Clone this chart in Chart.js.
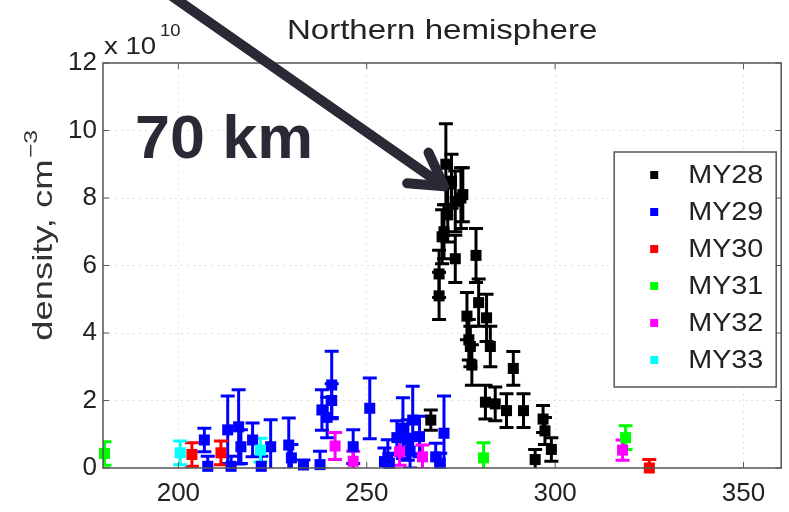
<!DOCTYPE html>
<html>
<head>
<meta charset="utf-8">
<script src="https://cdn.jsdelivr.net/npm/chart.js@4"></script>
<style>
  html, body { margin: 0; padding: 0; background: #fff; }
  #wrap { width: 789px; height: 512px; }
</style>
</head>
<body>
<div id="wrap"><canvas id="densityChart" width="789" height="512"></canvas></div>
<script>
// tick labels
const xTicks = [200, 250, 300, 350];
const yTicks = [0, 2, 4, 6, 8, 10, 12];

const seriesNames = ["MY28", "MY29", "MY30", "MY31", "MY32", "MY33"];
const seriesColors = ["#000000", "#0000ff", "#ff0000", "#00ff00", "#ff00ff", "#00ffff"];

// solar longitude Ls (deg), density (x 10^10 cm^-3), error half width
const my28Ls = [271.0, 272.5, 273.5, 275.0, 275.5, 271.5, 270.5, 270.0, 273.5, 279.0, 269.2, 269.2, 279.7, 276.6,
                281.8, 277.1, 277.5, 282.8, 277.9, 288.9, 281.5, 284.1, 287.1, 291.6, 296.8, 297.3, 299.0, 294.7, 267.0];
const my28Density = [9.0, 8.5, 7.9, 8.0, 8.1, 7.5, 7.0, 6.85, 6.2, 6.3, 5.75, 5.1, 4.9, 4.5,
                     4.45, 3.8, 3.6, 3.6, 3.05, 2.95, 1.95, 1.9, 1.7, 1.7, 1.45, 1.1, 0.55, 0.25, 1.42];
const my28Err = [1.2, 0.8, 0.9, 0.9, 0.8, 0.8, 0.8, 0.8, 0.7, 0.8, 0.7, 0.7, 0.7, 0.7,
                 0.7, 0.6, 0.6, 0.6, 0.6, 0.5, 0.5, 0.5, 0.5, 0.5, 0.4, 0.4, 0.35, 0.3, 0.3];

const my29Ls = [206.9, 207.8, 213.1, 214.0, 216.0, 216.6, 219.7, 222.0, 224.5, 229.3, 230.0, 233.2, 237.6, 238.1,
                239.5, 240.7, 240.7, 246.4, 250.8, 254.7, 255.6, 256.0, 259.6, 260.9, 262.2, 264.0, 268.3, 270.5,
                269.5, 258.0, 261.5];
const my29Density = [0.83, 0.05, 1.13, 0.05, 1.22, 0.63, 0.83, 0.05, 0.63, 0.68, 0.3, 0.09, 0.1, 1.72,
                     1.5, 2.46, 2.0, 0.63, 1.77, 0.19, 0.24, 0.14, 1.18, 0.83, 1.42, 0.93, 0.33, 1.03,
                     0.14, 0.9, 0.5];
const my29Err = [0.35, 0.3, 1.0, 0.3, 1.1, 0.5, 0.5, 0.3, 0.8, 0.8, 0.4, 0.15, 0.4, 0.6,
                 0.6, 1.0, 0.5, 0.5, 0.9, 0.4, 0.6, 0.3, 0.9, 0.6, 1.0, 0.6, 0.4, 1.1,
                 0.3, 0.5, 0.5];

const my30Ls = [203.6, 211.3, 325.0];
const my30Density = [0.4, 0.45, 0.0];
const my30Err = [0.35, 0.35, 0.25];

const my31Ls = [180.4, 281.0, 318.7];
const my31Density = [0.43, 0.3, 0.9];
const my31Err = [0.35, 0.45, 0.35];

const my32Ls = [241.6, 246.4, 258.7, 264.8, 317.9];
const my32Density = [0.65, 0.2, 0.48, 0.33, 0.53];
const my32Err = [0.4, 0.3, 0.4, 0.35, 0.3];

const my33Ls = [200.5, 221.8];
const my33Density = [0.45, 0.53];
const my33Err = [0.35, 0.35];

const allLs = [my28Ls, my29Ls, my30Ls, my31Ls, my32Ls, my33Ls];
const allDensity = [my28Density, my29Density, my30Density, my31Density, my32Density, my33Density];
const allErr = [my28Err, my29Err, my30Err, my31Err, my32Err, my33Err];

const FONT = '"Liberation Sans", Arial, Helvetica, sans-serif';
const TXT = "#222222";

const datasets = seriesNames.map((name, i) => ({
    label: name,
    data: allLs[i].map((x, j) => ({ x: x, y: allDensity[i][j], err: allErr[i][j] })),
    backgroundColor: seriesColors[i],
    borderColor: seriesColors[i],
    pointStyle: "rect",
    pointRadius: 7.8,
    pointBorderWidth: 0,
    showLine: false,
    clip: false,
    order: seriesNames.length - i
}));

// text stretched a bit wider, like the original figure
function wideText(ctx, text, x, y, sx) {
    ctx.save();
    ctx.translate(x, y);
    ctx.scale(sx, 1);
    ctx.fillText(text, 0, 0);
    ctx.restore();
}

const errorBars = {
    id: "errorBars",
    beforeDatasetsDraw(chart) {
        const ctx = chart.ctx, xs = chart.scales.x, ys = chart.scales.y, a = chart.chartArea;
        ctx.save();
        ctx.beginPath();
        ctx.rect(a.left, a.top, a.right - a.left, a.bottom - a.top);
        ctx.clip();
        ctx.lineWidth = 3;
        chart.data.datasets.forEach(ds => {
            ctx.strokeStyle = ds.borderColor;
            ds.data.forEach(p => {
                const px = xs.getPixelForValue(p.x);
                const top = ys.getPixelForValue(p.y + p.err);
                const bot = ys.getPixelForValue(p.y - p.err);
                ctx.beginPath();
                ctx.moveTo(px, top); ctx.lineTo(px, bot);
                ctx.moveTo(px - 7, top); ctx.lineTo(px + 7, top);
                ctx.moveTo(px - 7, bot); ctx.lineTo(px + 7, bot);
                ctx.stroke();
            });
        });
        ctx.restore();
    }
};

const decorations = {
    id: "decorations",
    afterDraw(chart) {
        const ctx = chart.ctx, xs = chart.scales.x, ys = chart.scales.y, a = chart.chartArea;
        ctx.save();

        // axes box and inward ticks
        ctx.strokeStyle = "#555";
        ctx.lineWidth = 1.5;
        ctx.strokeRect(a.left, a.top, a.right - a.left, a.bottom - a.top);
        ctx.lineWidth = 1;
        ctx.beginPath();
        xTicks.forEach(v => {
            const px = xs.getPixelForValue(v);
            ctx.moveTo(px, a.bottom); ctx.lineTo(px, a.bottom - 6);
            ctx.moveTo(px, a.top); ctx.lineTo(px, a.top + 6);
        });
        yTicks.forEach(v => {
            const py = ys.getPixelForValue(v);
            ctx.moveTo(a.left, py); ctx.lineTo(a.left + 6, py);
            ctx.moveTo(a.right, py); ctx.lineTo(a.right - 6, py);
        });
        ctx.stroke();

        // title
        ctx.fillStyle = TXT;
        ctx.font = "28px " + FONT;
        ctx.textAlign = "center";
        ctx.textBaseline = "middle";
        wideText(ctx, "Northern hemisphere", (a.left + a.right) / 2, 31, 1.18);

        // exponent label
        ctx.textAlign = "left";
        ctx.textBaseline = "alphabetic";
        ctx.font = "23px " + FONT;
        wideText(ctx, "x 10", a.left + 1, 54, 1.2);
        ctx.font = "16px " + FONT;
        wideText(ctx, "10", a.left + 57, 36, 1.15);

        // y axis title
        ctx.save();
        ctx.translate(44, 236);
        ctx.rotate(-Math.PI / 2);
        ctx.scale(1.3, 1);
        ctx.textBaseline = "middle";
        ctx.textAlign = "left";
        ctx.fillStyle = "#333";
        ctx.font = "28px " + FONT;
        const main = "density, cm";
        const w = ctx.measureText(main).width;
        ctx.font = "19px " + FONT;
        const sup = "\u22123";
        const w2 = ctx.measureText(sup).width;
        const start = -(w + w2) / 2;
        ctx.font = "28px " + FONT;
        ctx.fillText(main, start, 0);
        ctx.font = "19px " + FONT;
        ctx.fillText(sup, start + w + 1, -12);
        ctx.restore();

        // legend
        const lx = a.right - 167, ly = a.top + 89, lw = 162, lh = 235;
        ctx.fillStyle = "#fff";
        ctx.fillRect(lx, ly, lw, lh);
        ctx.strokeStyle = "#555";
        ctx.lineWidth = 1.5;
        ctx.strokeRect(lx, ly, lw, lh);
        ctx.font = "25px " + FONT;
        ctx.textBaseline = "middle";
        ctx.textAlign = "left";
        chart.data.datasets.forEach((ds, i) => {
            const ry = ly + 23 + i * 37;
            ctx.fillStyle = ds.backgroundColor;
            ctx.fillRect(lx + 36, ry - 4, 8, 8);
            ctx.fillStyle = TXT;
            wideText(ctx, ds.label, lx + 74, ry + 1, 1.15);
        });

        // annotation: 70 km with arrow
        ctx.fillStyle = "#2a2a36";
        ctx.font = "bold 61px " + FONT;
        ctx.textBaseline = "alphabetic";
        wideText(ctx, "70 km", 135, 158, 1.03);

        const tipX = xs.getPixelForValue(270.5), tipY = ys.getPixelForValue(8.35);
        const ang = Math.atan2(190, 272);
        ctx.strokeStyle = "#2a2a36";
        ctx.lineWidth = 10;
        ctx.lineCap = "round";
        ctx.lineJoin = "round";
        ctx.beginPath();
        ctx.moveTo(tipX - 340 * Math.cos(ang), tipY - 340 * Math.sin(ang));
        ctx.lineTo(tipX, tipY);
        ctx.stroke();
        ctx.beginPath();
        ctx.moveTo(tipX + 37 * Math.cos(ang + Math.PI - 0.53), tipY + 37 * Math.sin(ang + Math.PI - 0.53));
        ctx.lineTo(tipX, tipY);
        ctx.lineTo(tipX + 37 * Math.cos(ang + Math.PI + 0.53), tipY + 37 * Math.sin(ang + Math.PI + 0.53));
        ctx.stroke();

        ctx.restore();
    }
};

new Chart(document.getElementById("densityChart"), {
    type: "scatter",
    data: { datasets: datasets },
    options: {
        responsive: false,
        animation: false,
        layout: { padding: { left: 0, right: 4, top: 63, bottom: 0 } },
        plugins: { legend: { display: false }, tooltip: { enabled: false } },
        scales: {
            x: {
                type: "linear",
                min: 180,
                max: 360,
                afterBuildTicks: s => { s.ticks = xTicks.map(v => ({ value: v })); },
                afterFit: s => { s.height = 44; },
                grid: { color: "#e2e2e2", drawTicks: false },
                border: { display: false, dash: [2, 4] },
                ticks: { color: TXT, font: { family: FONT, size: 26 }, padding: 10, maxRotation: 0 }
            },
            y: {
                type: "linear",
                min: 0,
                max: 12,
                afterBuildTicks: s => { s.ticks = yTicks.map(v => ({ value: v })); },
                afterFit: s => { s.width = 103; },
                grid: { color: "#e2e2e2", drawTicks: false },
                border: { display: false, dash: [2, 4] },
                ticks: { color: TXT, font: { family: FONT, size: 26 }, padding: 6 }
            }
        }
    },
    plugins: [errorBars, decorations]
});
</script>
</body>
</html>
